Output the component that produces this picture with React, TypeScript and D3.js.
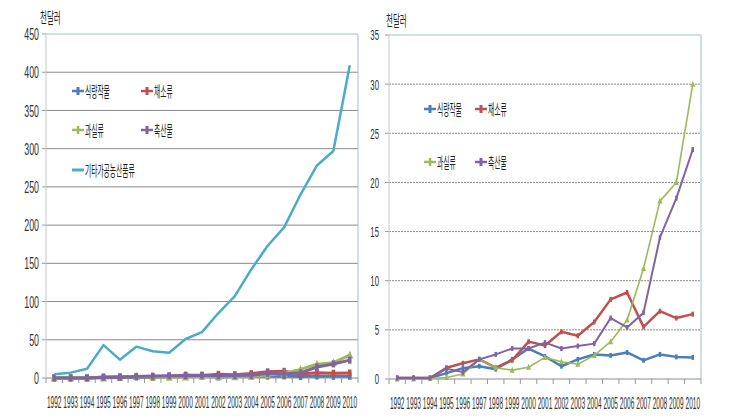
import React from "react";
import * as d3 from "d3";

const years = ["1992","1993","1994","1995","1996","1997","1998","1999","2000","2001","2002","2003","2004","2005","2006","2007","2008","2009","2010"];
const food = [0.1,0.1,0.1,0.6,1.1,1.3,1.0,2.0,3.1,2.3,1.3,2.0,2.5,2.4,2.7,1.9,2.5,2.25,2.2];
const veg = [0.1,0.1,0.1,1.15,1.6,2.0,1.15,1.9,3.8,3.4,4.8,4.4,5.8,8.1,8.8,5.3,6.9,6.2,6.6];
const fruit = [0,0,0.05,0.15,0.5,2.0,1.15,0.9,1.2,2.2,1.75,1.5,2.4,3.8,6.0,11.25,18.1,20.0,30.0];
const livestock = [0.1,0.1,0.1,1.05,0.7,2.0,2.5,3.1,3.1,3.7,3.1,3.35,3.6,6.2,5.25,6.75,14.4,18.4,23.35];
const processed = [5,7,12,43,24,41,35,33,51,60,85,107,142,173,197,240,278,297,409];
const leftTicks = [0,50,100,150,200,250,300,350,400,450];
const rightTicks = [0,5,10,15,20,25,30,35];
const unitLabel = "천달러";

type S = { name: string; values: number[]; color: string; marker: "bar" | "tri" | "none"; w: number };

const baseSeries: S[] = [
  { name: "식량작물", values: food, color: "#4a7ebb", marker: "bar", w: 2.5 },
  { name: "채소류", values: veg, color: "#c0504d", marker: "bar", w: 2.5 },
  { name: "과실류", values: fruit, color: "#9bbb59", marker: "tri", w: 1.6 },
  { name: "축산물", values: livestock, color: "#8064a2", marker: "bar", w: 2 },
];

const FONT = "'Noto Sans CJK KR', 'Noto Sans', sans-serif";
const NUM = "'Liberation Sans', sans-serif";

function Panel(props: {
  x0: number; x1: number; yTop: number; yBot: number; max: number; ticks: number[];
  series: S[]; legend: { x: number; y: number }[]; title: { x: number; y: number };
  dashed: boolean; labelRight: number; mk: number; yFont: number;
}) {
  const { x0, x1, yTop, yBot, max, ticks, series, legend, title, dashed, labelRight, mk, yFont } = props;
  const x = d3.scaleBand<string>().domain(years).range([x0, x1]);
  const y = d3.scaleLinear().domain([0, max]).range([yBot, yTop]);
  const cx = (yr: string) => (x(yr) as number) + x.bandwidth() / 2;
  const line = d3.line<number>().x((_, i) => cx(years[i])).y((v) => y(v));
  return (
    <g>
      <text fontSize={15} fontFamily={FONT} fill="#222"
        transform={`translate(${title.x},${title.y}) scale(0.5,1)`}>{unitLabel}</text>
      {ticks.map((t) => (
        <g key={t}>
          {t > 0 && t < max && (
            <line x1={x0} x2={x1} y1={y(t)} y2={y(t)} stroke="#8a8a8a" strokeWidth={1}
              strokeDasharray={dashed ? "2,1" : undefined} />
          )}
          <line x1={x0 - 4} x2={x0} y1={y(t)} y2={y(t)} stroke="#999" />
          <text fontSize={yFont} fontFamily={NUM} fill="#333" textAnchor="end"
            transform={`translate(${labelRight},${y(t) + yFont * 0.36}) scale(0.52,1)`}>{t}</text>
        </g>
      ))}
      <line x1={x0} x2={x1} y1={yTop} y2={yTop} stroke="#9cc2d2" />
      <line x1={x1} x2={x1} y1={yTop} y2={yBot} stroke="#9cc2d2" />
      <line x1={x0} x2={x0} y1={yTop} y2={yBot} stroke="#c8c8c8" />
      <line x1={x0} x2={x1} y1={yBot} y2={yBot} stroke="#8a8a8a" />
      {years.map((yr) => (
        <line key={"t" + yr} x1={x(yr) as number} x2={x(yr) as number} y1={yBot} y2={yBot + 5} stroke="#999" />
      ))}
      <line x1={x1} x2={x1} y1={yBot} y2={yBot + 5} stroke="#999" />
      {years.map((yr) => (
        <text key={yr} fontSize={16} fontFamily={NUM} fill="#333" textAnchor="middle"
          transform={`translate(${cx(yr)},${yBot + 30}) scale(0.41,1)`}>{yr}</text>
      ))}
      {series.map((s) => (
        <g key={s.name}>
          <path d={line(s.values) || ""} fill="none" stroke={s.color} strokeWidth={s.w} strokeLinejoin="round" />
          {s.marker !== "none" && s.values.map((v, i) =>
            s.marker === "bar" ? (
              <rect key={i} x={cx(years[i]) - mk / 2} y={y(v) - mk} width={mk} height={mk * 2} fill={s.color} />
            ) : (
              <path key={i} d={`M${cx(years[i])},${y(v) - mk - 1}L${cx(years[i]) + mk},${y(v) + mk}L${cx(years[i]) - mk},${y(v) + mk}Z`} fill={s.color} />
            )
          )}
        </g>
      ))}
      {series.map((s, i) => {
        const p = legend[i];
        return (
          <g key={"l" + s.name}>
            <line x1={p.x - 6} x2={p.x + 6} y1={p.y} y2={p.y} stroke={s.color} strokeWidth={s.marker === "none" ? 3 : 2.5} />
            {s.marker === "bar" && <rect x={p.x - 1.5} y={p.y - 4} width={3} height={8} fill={s.color} />}
            {s.marker === "tri" && <rect x={p.x - 1.25} y={p.y - 4} width={2.5} height={8} fill={s.color} />}
            <text fontSize={15} fontFamily={FONT} fill="#222"
              transform={`translate(${p.x + 7},${p.y + 6}) scale(0.45,1)`}>{s.name}</text>
          </g>
        );
      })}
    </g>
  );
}

export default function App() {
  const leftSeries: S[] = [
    ...baseSeries.map((s) => ({ ...s, w: 3 })),
    { name: "기타가공농산품류", values: processed, color: "#4bacc6", marker: "none", w: 2.5 },
  ];
  return (
    <svg width={737} height={420} style={{ position: "absolute", left: 0, top: 0, background: "#fff" }}>
      <Panel x0={46} x1={358} yTop={34} yBot={378} max={450} ticks={leftTicks} series={leftSeries}
        legend={[{ x: 78, y: 91 }, { x: 147, y: 91 }, { x: 78, y: 130 }, { x: 147, y: 130 }, { x: 78, y: 170 }]}
        title={{ x: 40, y: 23 }} dashed={false} labelRight={39} mk={3.5} yFont={17} />
      <Panel x0={389} x1={701} yTop={35} yBot={379} max={35} ticks={rightTicks} series={baseSeries}
        legend={[{ x: 430, y: 109 }, { x: 481, y: 109 }, { x: 430, y: 162 }, { x: 481, y: 162 }]}
        title={{ x: 386, y: 26 }} dashed={true} labelRight={379} mk={2.5} yFont={15} />
    </svg>
  );
}
